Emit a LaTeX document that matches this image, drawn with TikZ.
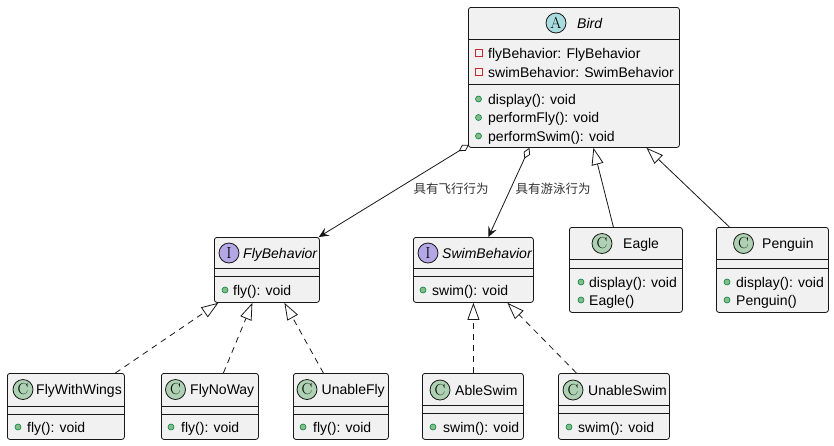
\documentclass[tikz,border=0pt]{standalone}
\usepackage{fontspec}
\usetikzlibrary{arrows.meta,calc}
\newfontfamily\uifont{Liberation Sans}
\newfontfamily\cjk{Noto Sans CJK SC}
\definecolor{boxfill}{HTML}{F1F1F1}
\definecolor{linec}{HTML}{181818}
\definecolor{cbadge}{HTML}{ADD1B2}
\definecolor{ibadge}{HTML}{B4A7E5}
\definecolor{abadge}{HTML}{A9DCDF}
\definecolor{pubfill}{HTML}{84BE84}
\definecolor{pubdraw}{HTML}{038048}
\definecolor{privred}{HTML}{C82930}
\definecolor{labelc}{HTML}{333333}
\begin{document}
\begin{tikzpicture}[x=1pt,y=-1pt,
        classbox/.style={draw=linec,fill=boxfill,rounded corners=2.5pt,line width=0.8pt,anchor=north west,inner sep=0pt},
        badge/.style={circle,draw=linec,line width=0.8pt,minimum size=20pt,inner sep=0pt,font=\fontsize{16}{16}\selectfont},
        cname/.style={anchor=west,inner sep=0pt,text height=10pt,text depth=0pt,font=\uifont\fontsize{14}{16}\selectfont},
        iname/.style={cname,font=\uifont\itshape\fontsize{14}{16}\selectfont},
        pub/.style={circle,fill=pubfill,draw=pubdraw,line width=0.6pt,minimum size=6pt,inner sep=0pt},
        priv/.style={draw=privred,line width=0.8pt,minimum size=7pt,inner sep=0pt},
        sepline/.style={draw=linec,line width=0.8pt},
        assoc/.style={draw=linec,line width=0.8pt,{Diamond[open,length=12pt,width=7pt]}-{Stealth[length=10pt,width=9pt,inset=4pt]}},
        extends/.style={draw=linec,line width=0.8pt,-{Triangle[open,length=17pt,width=12pt]}},
        realizes/.style={extends,dash pattern=on 6pt off 5pt},
        rolelabel/.style={inner sep=0pt,text=labelc,font=\cjk\fontsize{12.5}{14}\selectfont}
    ]
        \useasboundingbox (0,0) rectangle (834,445);

        % class boxes
        \node[classbox,minimum width=211pt,minimum height=140pt] (bird) at (468,7) {};
        \node[classbox,minimum width=105pt,minimum height=65pt] (flyb) at (214,237) {};
        \node[classbox,minimum width=120pt,minimum height=65pt] (swimb) at (413,237) {};
        \node[classbox,minimum width=113pt,minimum height=85pt] (eagle) at (569,227) {};
        \node[classbox,minimum width=112pt,minimum height=85pt] (penguin) at (716,227) {};
        \node[classbox,minimum width=117pt,minimum height=66pt] (wings) at (7,373) {};
        \node[classbox,minimum width=97pt,minimum height=66pt] (noway) at (161,373) {};
        \node[classbox,minimum width=95pt,minimum height=66pt] (unfly) at (293,373) {};
        \node[classbox,minimum width=101pt,minimum height=66pt] (ableswim) at (422,373) {};
        \node[classbox,minimum width=111pt,minimum height=66pt] (unswim) at (558,373) {};

        \foreach \b/\ya/\yb in {bird/39/84,flyb/268/276,swimb/268/276,eagle/259/268,penguin/259/268,
                wings/406/414,noway/406/414,unfly/406/414,ableswim/405/413,unswim/405/413} {
            \draw[sepline] (\b.west |- 0,\ya) -- (\b.east |- 0,\ya);
            \draw[sepline] (\b.west |- 0,\yb) -- (\b.east |- 0,\yb);
        }

        % Bird
        \node[badge,fill=abadge] (bird-c) at (556,23) {A};
        \node[iname] (bird-n) at (577,23) {Bird};
        \node[priv] (bird-p1) at (478.5,53) {};
        \node[cname] (bird-a1) at (488,53) {flyBehavior: FlyBehavior};
        \node[priv] (bird-p2) at (478.5,72) {};
        \node[cname] (bird-a2) at (488,72) {swimBehavior: SwimBehavior};
        \node[pub] (bird-d1) at (478.5,99) {};
        \node[cname] (bird-m1) at (488,99) {display(): void};
        \node[pub] (bird-d2) at (478.5,117.5) {};
        \node[cname] (bird-m2) at (488,117.5) {performFly(): void};
        \node[pub] (bird-d3) at (478.5,136) {};
        \node[cname] (bird-m3) at (488,136) {performSwim(): void};

        % interfaces
        \node[badge,fill=ibadge] (flyb-c) at (229,253) {I};
        \node[iname] (flyb-n) at (243,253) {FlyBehavior};
        \node[pub] (flyb-d1) at (225,290) {};
        \node[cname] (flyb-m1) at (233,290) {fly(): void};

        \node[badge,fill=ibadge] (swimb-c) at (428,253) {I};
        \node[iname] (swimb-n) at (442,253) {SwimBehavior};
        \node[pub] (swimb-d1) at (423,290) {};
        \node[cname] (swimb-m1) at (432,290) {swim(): void};

        % subclasses of Bird
        \node[badge,fill=cbadge] (eagle-c) at (602,243.5) {C};
        \node[cname] (eagle-n) at (623,243.5) {Eagle};
        \node[pub] (eagle-d1) at (581,282) {};
        \node[cname] (eagle-m1) at (589,282) {display(): void};
        \node[pub] (eagle-d2) at (581,300) {};
        \node[cname] (eagle-m2) at (589,300) {Eagle()};

        \node[badge,fill=cbadge] (penguin-c) at (743.5,243.5) {C};
        \node[cname] (penguin-n) at (762,243.5) {Penguin};
        \node[pub] (penguin-d1) at (727,282) {};
        \node[cname] (penguin-m1) at (736,282) {display(): void};
        \node[pub] (penguin-d2) at (727,300) {};
        \node[cname] (penguin-m2) at (736,300) {Penguin()};

        % fly implementations
        \node[badge,fill=cbadge] (wings-c) at (23,389.5) {C};
        \node[cname] (wings-n) at (36,389.5) {FlyWithWings};
        \node[pub] (wings-d1) at (18,427) {};
        \node[cname] (wings-m1) at (27,427) {fly(): void};

        \node[badge,fill=cbadge] (noway-c) at (175.5,389.5) {C};
        \node[cname] (noway-n) at (190,389.5) {FlyNoWay};
        \node[pub] (noway-d1) at (171,427) {};
        \node[cname] (noway-m1) at (181,427) {fly(): void};

        \node[badge,fill=cbadge] (unfly-c) at (307,389.5) {C};
        \node[cname] (unfly-n) at (321.5,389.5) {UnableFly};
        \node[pub] (unfly-d1) at (303,427) {};
        \node[cname] (unfly-m1) at (313,427) {fly(): void};

        % swim implementations
        \node[badge,fill=cbadge] (ableswim-c) at (440,390) {C};
        \node[cname] (ableswim-n) at (455,390) {AbleSwim};
        \node[pub] (ableswim-d1) at (433,427) {};
        \node[cname] (ableswim-m1) at (443,427) {swim(): void};

        \node[badge,fill=cbadge] (unswim-c) at (573,390) {C};
        \node[cname] (unswim-n) at (588,390) {UnableSwim};
        \node[pub] (unswim-d1) at (569,427) {};
        \node[cname] (unswim-m1) at (578,427) {swim(): void};

        % relations
        \draw[assoc] ($(bird.south west)+(1,-3)$) -- ($(flyb.north east)+(-1,0)$);
        \draw[assoc] ($(bird.south)+(-44.5,0)$) -- ($(swimb.north)+(15,0)$);
        \node[rolelabel] (flylabel) at (451,189) {具有飞行行为};
        \node[rolelabel] (swimlabel) at (553,189) {具有游泳行为};

        \draw[extends] ($(eagle.north)+(-12.5,0)$) -- ($(bird.south)+(19.5,0)$);
        \draw[extends] ($(penguin.north)+(-43,0)$) -- ($(bird.south)+(72.5,0)$);

        \draw[realizes] ($(wings.north)+(49.5,0)$) -- ($(flyb.south)+(-48.5,0)$);
        \draw[realizes] ($(noway.north)+(13.5,0)$) -- ($(flyb.south)+(-14.5,0)$);
        \draw[realizes] ($(unfly.north)+(-17.5,0)$) -- ($(flyb.south)+(17.5,0)$);
        \draw[realizes] ($(ableswim.north)+(0.5,0)$) -- ($(swimb.south)+(0,0)$);
        \draw[realizes] ($(unswim.north)+(-37.5,0)$) -- ($(swimb.south)+(34,0)$);

    \end{tikzpicture}
\end{document}
